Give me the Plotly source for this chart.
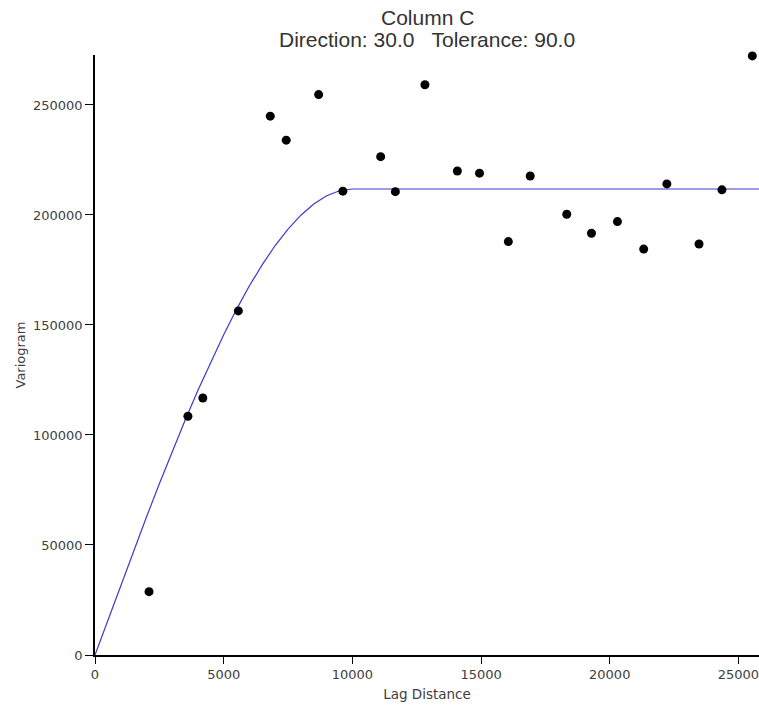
import plotly.graph_objects as go

lag = [2100, 3610, 4190, 5570, 6810, 7430, 8690, 9630, 11100, 11670, 12820,
       14080, 14940, 16060, 16910, 18330, 19290, 20300, 21320, 22220, 23470,
       24360, 25540]
gamma = [28800, 108500, 116800, 156400, 244900, 234000, 254700, 210800,
         226500, 210600, 259200, 220000, 219000, 187900, 217700, 200300,
         191700, 197000, 184500, 214100, 186800, 211400, 272300]

model_lag = [0, 500, 1000, 1500, 2000, 2500, 3000, 3500, 4000, 4500, 5000,
             5500, 6000, 6500, 7000, 7500, 8000, 8500, 9000, 9500, 10000, 26000]
model_gamma = [0, 15900, 31700, 47300, 62700, 77800, 92500, 106700, 120300,
               133300, 145600, 157100, 167800, 177400, 186100, 193600, 199900,
               205000, 208700, 211000, 211800, 211800]

xticks = [0, 5000, 10000, 15000, 20000, 25000]
yticks = [0, 50000, 100000, 150000, 200000, 250000]

title_lines = ["Column C", "Direction: 30.0   Tolerance: 90.0"]

fig = go.Figure()
fig.add_trace(go.Scatter(x=model_lag, y=model_gamma, mode="lines",
                         line=dict(color="#3a3ad0", width=1.2),
                         hoverinfo="skip", cliponaxis=False))
fig.add_trace(go.Scatter(x=lag, y=gamma, mode="markers",
                         marker=dict(color="black", size=9),
                         cliponaxis=False))

txtcol = "#404040"
tickfont = dict(family="DejaVu Sans", size=13, color=txtcol)
fig.update_layout(
    width=759, height=706,
    margin=dict(l=95, r=0, t=55, b=51),
    plot_bgcolor="white", paper_bgcolor="white",
    showlegend=False,
)
for i, (t, py) in enumerate(zip(title_lines, [1.0633, 1.026])):
    fig.add_annotation(text=t, xref="paper", yref="paper", x=0.5, y=py,
                       xanchor="center", yanchor="middle", showarrow=False,
                       font=dict(family="Liberation Sans, Arial", size=21, color="#333"))
fig.update_xaxes(range=[0, 25800], tickvals=xticks, ticktext=[str(v) for v in xticks],
                 showgrid=False, zeroline=False, showline=True, linecolor="black",
                 linewidth=1.5, ticks="outside", ticklen=7, tickcolor="black",
                 tickfont=tickfont, ticklabeloverflow="allow",
                 title=dict(text="Lag Distance", standoff=8,
                            font=dict(family="DejaVu Sans", size=13.5, color=txtcol)))
fig.update_yaxes(range=[0, 272700], tickvals=yticks, ticktext=[str(v) for v in yticks],
                 showgrid=False, zeroline=False, showline=True, linecolor="black",
                 linewidth=1.5, ticks="outside", ticklen=8, tickcolor="black",
                 tickfont=tickfont,
                 title=dict(text="Variogram", standoff=4,
                            font=dict(family="DejaVu Sans", size=13, color=txtcol)))

fig.write_html("out.html")
